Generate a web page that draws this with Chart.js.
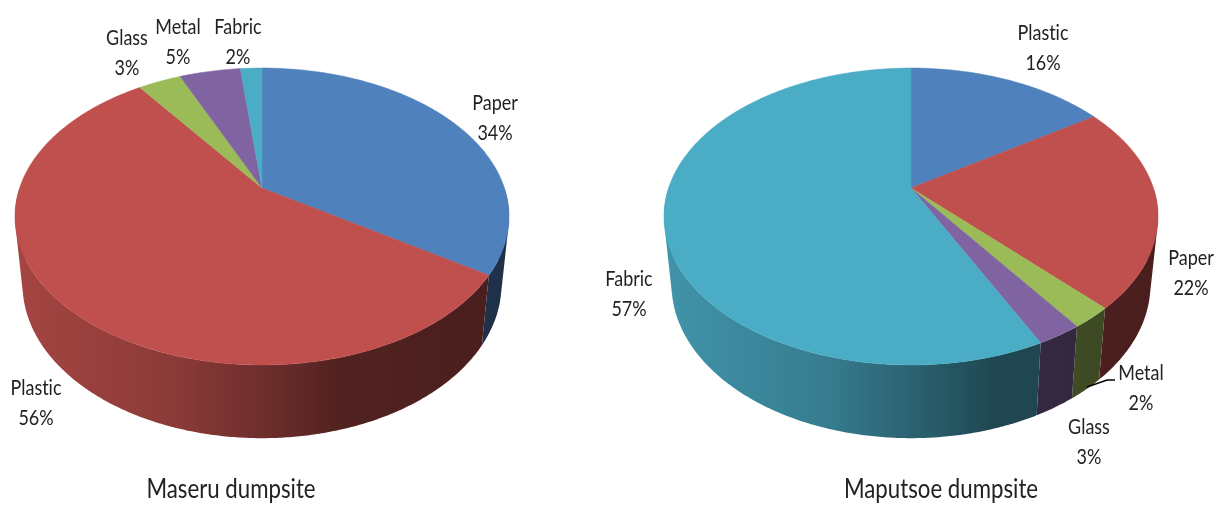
<!DOCTYPE html>
<html>
<head>
<meta charset="utf-8">
<title>Dumpsite waste composition</title>
<script src="https://cdn.jsdelivr.net/npm/chart.js@4"></script>
<style>
    html, body { margin: 0; padding: 0; background: #fff; }
    canvas { position: absolute; top: 0; }
    #maseru { left: 0; }
    #maputsoe { left: 560px; }
</style>
</head>
<body>
<canvas id="maseru" width="560" height="507"></canvas>
<canvas id="maputsoe" width="666" height="507"></canvas>
<script>
const maseruTitle = 'Maseru dumpsite'
const maseruLabels = ['Paper', 'Plastic', 'Glass', 'Metal', 'Fabric']
const maseruValues = [34.2, 55.9, 3.4, 4.8, 1.7]

const maputsoeTitle = 'Maputsoe dumpsite'
const maputsoeLabels = ['Plastic', 'Paper', 'Metal', 'Glass', 'Fabric']
const maputsoeValues = [15.7, 22.2, 2.3, 2.5, 57.3]

const sliceColors = ['#4F81BD', '#C0504D', '#9BBB59', '#8064A2', '#4BACC6']

// where the text sits, centre of the two lines
const maseruLabelPos = [[495, 118], [36, 403], [127, 53], [178, 42], [238, 42]]
const maputsoeLabelPos = [[483, 48], [631, 273], [581, 388], [529, 442], [69, 294]]

// perspective of the disc: top rim and bottom rim
const topRim = { r: 242.4, s: 143, y: 188 }
const bottomRim = { r: 235, s: 148, y: 255 }
const tilt = -0.192

// darkening of the side wall from left to right
const wallStops = [[0, .86], [.33, .72], [.56, .52], [.66, .42], [1, .38]]

function project(rim, cx, angle){
    const u = Math.cos(angle)
    const v = Math.sin(angle)
    const w = 1 + tilt * v
    return [cx + rim.r * u / w, rim.y + rim.s * v / w]
}

function shade(hex, f){
    const n = parseInt(hex.slice(1), 16)
    return `rgb(${Math.round((n >> 16) * f)},${Math.round(((n >> 8) & 255) * f)},${Math.round((n & 255) * f)})`
}

// all quads wound the same way, so overlaps near the silhouette do not cancel out
function addQuad(ctx, pts){
    let area = 0
    pts.forEach((p, i) => {
        const q = pts[(i + 1) % pts.length]
        area += p[0] * q[1] - q[0] * p[1]
    })
    if(area < 0) pts = pts.slice().reverse()
    pts.forEach((p, i) => i ? ctx.lineTo(p[0], p[1]) : ctx.moveTo(p[0], p[1]))
    ctx.closePath()
}

function drawText(ctx, text, x, y, size){
    ctx.save()
    ctx.translate(x, y)
    ctx.scale(0.855, 1)
    ctx.fillStyle = '#222'
    ctx.font = size + 'px Lato'
    ctx.letterSpacing = '0.01px'
    ctx.textAlign = 'center'
    ctx.textBaseline = 'middle'
    ctx.fillText(text, 0, 0)
    ctx.restore()
}

const pie3d = {
    id: 'pie3d',
    beforeDatasetsDraw(chart, args, opts){
        const ctx = chart.ctx
        const cx = opts.cx
        const arcs = chart.getDatasetMeta(0).data
        const colors = chart.data.datasets[0].backgroundColor

        // side wall first, only the part facing us
        arcs.forEach((arc, i) => {
            const grad = ctx.createLinearGradient(cx - 247, 0, cx + 247, 0)
            wallStops.forEach(s => grad.addColorStop(s[0], shade(colors[i], s[1])))
            const step = Math.PI / 360
            ctx.beginPath()
            for(let a = arc.startAngle; a < arc.endAngle; a += step){
                if(Math.sin(a) <= 0) continue
                const next = Math.min(a + step, arc.endAngle)
                addQuad(ctx, [
                    project(topRim, cx, a),
                    project(topRim, cx, next),
                    project(bottomRim, cx, next),
                    project(bottomRim, cx, a)
                ])
            }
            ctx.fillStyle = grad
            ctx.fill()
        })

        // top face
        arcs.forEach((arc, i) => {
            ctx.beginPath()
            ctx.moveTo(cx, topRim.y)
            for(let a = arc.startAngle; a < arc.endAngle; a += 0.01){
                const p = project(topRim, cx, a)
                ctx.lineTo(p[0], p[1])
            }
            const end = project(topRim, cx, arc.endAngle)
            ctx.lineTo(end[0], end[1])
            ctx.closePath()
            ctx.fillStyle = colors[i]
            ctx.strokeStyle = colors[i]
            ctx.lineWidth = 0.5
            ctx.fill()
            ctx.stroke()
        })

        // labels
        chart.data.labels.forEach((label, i) => {
            const pos = opts.labelPos[i]
            drawText(ctx, label, pos[0], pos[1] - 15, 21)
            drawText(ctx, Math.round(chart.data.datasets[0].data[i]) + '%', pos[0], pos[1] + 15, 21)
        })
        drawText(ctx, opts.title, opts.titleX, 490, 26)

        if(opts.leader){
            ctx.beginPath()
            opts.leader.forEach((p, i) => i ? ctx.lineTo(p[0], p[1]) : ctx.moveTo(p[0], p[1]))
            ctx.strokeStyle = '#000'
            ctx.lineWidth = 1.5
            ctx.stroke()
        }
        return false
    }
}

function makePie(id, labels, values, extra){
    new Chart(document.getElementById(id), {
        type: 'pie',
        data: {
            labels: labels,
            datasets: [{ data: values, backgroundColor: sliceColors, borderWidth: 0 }]
        },
        options: {
            responsive: false,
            animation: false,
            events: [],
            plugins: { legend: { display: false }, tooltip: { enabled: false }, pie3d: extra }
        },
        plugins: [pie3d]
    })
}

makePie('maseru', maseruLabels, maseruValues, {
    cx: 262, title: maseruTitle, titleX: 231, labelPos: maseruLabelPos
})
makePie('maputsoe', maputsoeLabels, maputsoeValues, {
    cx: 351, title: maputsoeTitle, titleX: 381, labelPos: maputsoeLabelPos,
    leader: [[527, 387], [547, 380], [555, 380]]
})
</script>
</body>
</html>
